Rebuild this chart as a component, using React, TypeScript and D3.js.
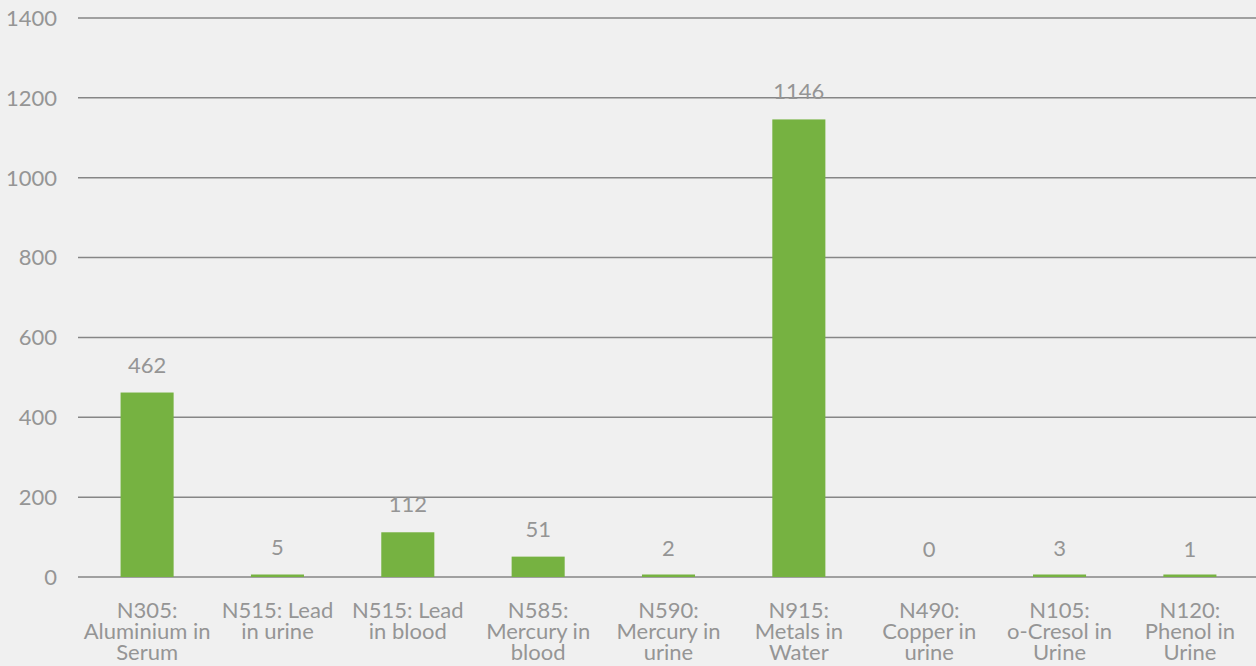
import React from "react";
import * as d3 from "d3";

// chart data
const categories = [
  "N305: Aluminium in Serum",
  "N515: Lead in urine",
  "N515: Lead in blood",
  "N585: Mercury in blood",
  "N590: Mercury in urine",
  "N915: Metals in Water",
  "N490: Copper in urine",
  "N105: o-Cresol in Urine",
  "N120: Phenol in Urine",
];
const categoryLines = [
  ["N305:", "Aluminium in", "Serum"],
  ["N515: Lead", "in urine"],
  ["N515: Lead", "in blood"],
  ["N585:", "Mercury in", "blood"],
  ["N590:", "Mercury in", "urine"],
  ["N915:", "Metals in", "Water"],
  ["N490:", "Copper in", "urine"],
  ["N105:", "o-Cresol in", "Urine"],
  ["N120:", "Phenol in", "Urine"],
];
const values = [462, 5, 112, 51, 2, 1146, 0, 3, 1];
const yTicks = [0, 200, 400, 600, 800, 1000, 1200, 1400];

const W = 1256;
const H = 666;
const FONT = "Lato, 'Open Sans', sans-serif";
const TEXT = "#959595";

export default function App() {
  const x = d3.scaleBand<string>().domain(categories).range([82, 1255]).paddingInner(0.593).paddingOuter(0.296);
  const y = d3.scaleLinear().domain([0, 1400]).range([577, 18]);

  return (
    <div style={{ position: "absolute", left: 0, top: 0 }}>
      <svg width={W} height={H} style={{ display: "block", background: "#f0f0f0" }} fontFamily={FONT}>
        <rect x={0} y={0} width={W} height={H} fill="#f0f0f0" />
        {yTicks.map((t) => (
          <g key={t}>
            <line x1={78} x2={W} y1={y(t)} y2={y(t)} stroke="#868686" strokeWidth={1.5} />
            <text x={57} y={y(t)} dy="0.36em" textAnchor="end" fontSize={22} fill={TEXT}>
              {t}
            </text>
          </g>
        ))}
        {categories.map((c, i) => {
          const v = values[i];
          const h = v > 0 ? Math.max(2.5, y(0) - y(v)) : 0;
          const cx = (x(c) ?? 0) + x.bandwidth() / 2;
          return (
            <g key={c}>
              {h > 0 && <rect x={x(c)} y={y(0) - h} width={x.bandwidth()} height={h} fill="#76b241" />}
              <text x={cx} y={y(v) - 20} textAnchor="middle" fontSize={22} fill={TEXT}>
                {v}
              </text>
              <text textAnchor="middle" fontSize={22} fill={TEXT}>
                {categoryLines[i].map((ln, j) => (
                  <tspan key={j} x={cx} y={618 + j * 21}>
                    {ln}
                  </tspan>
                ))}
              </text>
            </g>
          );
        })}
      </svg>
    </div>
  );
}
